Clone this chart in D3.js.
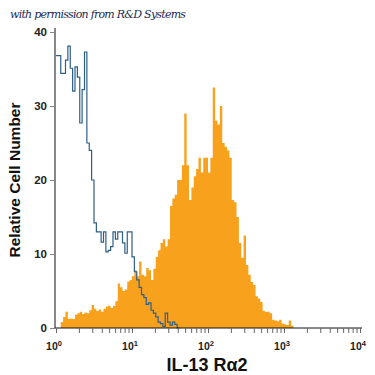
<!DOCTYPE html>
<html>
<head>
<meta charset="utf-8">
<script src="https://cdn.jsdelivr.net/npm/d3@7"></script>
<style>
  body { margin: 0; background: #fff; }
  svg { display: block; font-family: "Liberation Sans", Arial, sans-serif; }
</style>
</head>
<body>
<script>
// histogram channels: 32 bins per decade, bin i starts at 10^(i/32)
var binsPerDecade = 32;

// stained sample (orange fill)
var stained = [0,0,0.8,1.5,2.2,1.2,1.3,1.2,1.8,2.0,
  2.2,1.9,2.1,2.0,2.4,3.1,2.6,2.3,2.5,2.2,
  2.6,2.9,3.0,2.7,3.0,3.6,6.0,5.5,5.0,5.2,
  6.3,6.5,7.0,7.8,7.0,9.0,7.2,7.0,8.1,7.8,
  6.5,8.0,9.6,10.5,11.5,12.0,11.0,12.0,16.5,17.5,
  18.0,20.0,20.0,22.0,29.0,22.0,17.3,19.0,20.5,21.5,
  23.0,21.0,23.0,23.0,21.0,23.0,32.5,28.0,27.5,30.0,
  25.0,24.5,24.0,23.0,17.3,17.0,15.0,11.5,9.5,12.5,
  8.5,7.2,6.2,5.8,4.3,4.0,3.5,2.3,2.2,2.2,
  2.0,1.1,1.0,0.9,1.1,0.6,0.5,0.4,1.0,0.3,0];

// isotype control (blue step line)
var isotype = [36.8,36.8,34.4,34.4,36.2,38.1,35.1,32.0,35.3,33.9,
  27.7,32.2,37.3,25.0,24.0,20.0,14.2,13.0,13.0,11.6,
  13.0,10.3,10.5,11.0,13.0,12.0,13.0,13.0,11.5,10.1,
  13.0,13.0,9.6,7.6,6.5,5.5,4.5,4.1,3.2,3.4,
  2.4,2.0,1.5,0.8,0.6,0.2,2.0,0.8,0.4,0.8,0.5,0];

var yTicks = [0,10,20,30,40];
var xDecades = [1,10,100,1000,10000];
var xLabelExp = ['0','1','2','3','4'];

var svg = d3.select('body').append('svg').attr('width',375).attr('height',375);

var x = d3.scaleLog().domain([1,10000]).range([56,360]);
var y = d3.scaleLinear().domain([0,40]).range([328,32]);

var edge = i=>Math.pow(10,i/binsPerDecade);

var stainedPts = stained.map((v,i)=>({e:edge(i),v:v}));
stainedPts.push({e:edge(stained.length),v:0});
var isoPts = isotype.map((v,i)=>({e:edge(i),v:v}));
isoPts.push({e:edge(isotype.length),v:0});

var area = d3.area()
  .curve(d3.curveStepAfter)
  .x(d=>x(d.e))
  .y0(y(0))
  .y1(d=>y(d.v));

var line = d3.line()
  .curve(d3.curveStepAfter)
  .x(d=>x(d.e))
  .y(d=>y(d.v));

svg.append('path')
  .attr('d',area(stainedPts))
  .attr('fill','#f8a11c');

svg.append('path')
  .attr('d',line(isoPts))
  .attr('fill','none')
  .attr('stroke','#2f5f88')
  .attr('stroke-width',1.2);

// y axis
var yAxis = svg.append('g')
  .attr('transform','translate(55,0)')
  .call(d3.axisLeft(y).tickValues(yTicks).tickSize(5).tickSizeOuter(0).tickPadding(3));
yAxis.select('.domain').attr('d',`M0,${y(0)}V28`).attr('stroke','#111');
yAxis.selectAll('.tick line').attr('stroke','#888');
yAxis.selectAll('.tick text')
  .attr('font-size',11.5).attr('font-weight','bold').attr('fill','#222')
  .attr('font-family','"Liberation Sans", Arial, sans-serif');

// x axis with minor ticks
var minor = [];
for (var d=1; d<10000; d*=10) for (var k=1;k<10;k++) minor.push(d*k);
minor.push(10000);
var xAxis = svg.append('g')
  .attr('transform',`translate(0,${y(0)})`)
  .call(d3.axisBottom(x).tickValues(minor).tickSize(5).tickSizeOuter(0).tickFormat(''));
xAxis.select('.domain').attr('d','M55,0H362').attr('stroke','#111');
xAxis.selectAll('.tick line').attr('stroke','#666');

var xl = svg.append('g').selectAll('text')
  .data(xDecades)
  .enter().append('text')
    .attr('x',d=>x(d)-2)
    .attr('y',350)
    .attr('text-anchor','middle')
    .attr('font-size',10.5)
    .attr('font-weight','bold')
    .attr('fill','#222');
xl.append('tspan').text('10');
xl.append('tspan').attr('dy',-4).attr('font-size',7.5).text((d,i)=>xLabelExp[i]);

// axis titles
svg.append('text')
  .attr('x',207).attr('y',371)
  .attr('text-anchor','middle')
  .attr('font-size',18).attr('font-weight','bold').attr('fill','#111')
  .text('IL-13 R\u03b12');

svg.append('text')
  .attr('transform','translate(20,180) rotate(-90)')
  .attr('text-anchor','middle')
  .attr('font-size',15.5).attr('font-weight','bold').attr('fill','#111')
  .text('Relative Cell Number');

// watermark
svg.append('text')
  .attr('x',10).attr('y',18)
  .style('font-family','"DejaVu Serif", "Liberation Serif", serif')
  .style('font-style','italic')
  .attr('font-size',11)
  .attr('textLength',176)
  .attr('fill','#1a2a55')
  .text('with permission from R&D Systems');
</script>
</body>
</html>
